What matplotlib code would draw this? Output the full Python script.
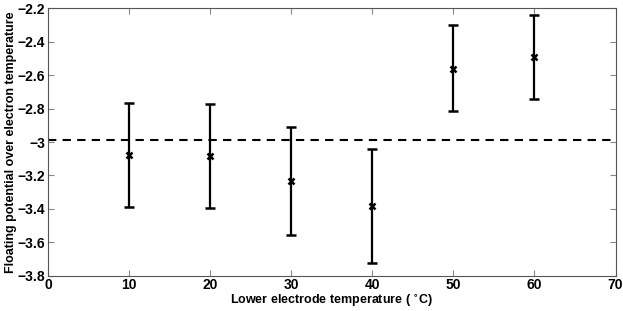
import matplotlib.pyplot as plt
import numpy as np

temps = [10, 20, 30, 40, 50, 60]
ratio = [-3.075, -3.083, -3.231, -3.383, -2.56, -2.49]
err_top = [-2.767, -2.773, -2.907, -3.04, -2.30, -2.24]
err_bot = [-3.386, -3.392, -3.556, -3.722, -2.817, -2.743]
ref_level = -2.99

plt.rcParams['font.family'] = ['Liberation Sans', 'DejaVu Sans']
plt.rcParams['font.weight'] = 'bold'
plt.rcParams['mathtext.default'] = 'bf'

ratio = np.array(ratio)
lower = ratio - np.array(err_bot)
upper = np.array(err_top) - ratio

fig = plt.figure(figsize=(6.23, 3.11), dpi=100)
ax = fig.add_axes([0.077, 0.1135, 0.911, 0.8595])

ax.errorbar(temps, ratio, yerr=[lower, upper], fmt='x', color='black',
            ecolor='black', elinewidth=1.6, capsize=3.5, capthick=1.6,
            markersize=5, markeredgewidth=1.8)
ax.axhline(ref_level, color='black', linestyle='--', linewidth=1.5, dashes=(4, 3))

ax.set_xlim(0, 70)
ax.set_ylim(-3.8, -2.2)
ax.set_xticks(np.arange(0, 71, 10))
ax.set_yticks(np.arange(-3.8, -2.19, 0.2))
ax.set_yticklabels(['\u22123.8', '\u22123.6', '\u22123.4', '\u22123.2', '\u22123',
                    '\u22122.8', '\u22122.6', '\u22122.4', '\u22122.2'])

for s in ax.spines.values():
    s.set_color('#555555')
    s.set_linewidth(0.8)
ax.tick_params(direction='in', top=True, right=True, length=4, width=0.8,
               color='#888888', labelsize=10, pad=2)

ax.set_xlabel('Lower electrode temperature ( $^{\\circ}$C)', fontsize=9, fontweight='bold')
ax.set_ylabel('Floating potential over electron temperature', fontsize=9, fontweight='bold')
ax.xaxis.set_label_coords(0.5, -0.062)
ax.yaxis.set_label_coords(-0.054, 0.5)

plt.savefig('out.png', dpi=100)
